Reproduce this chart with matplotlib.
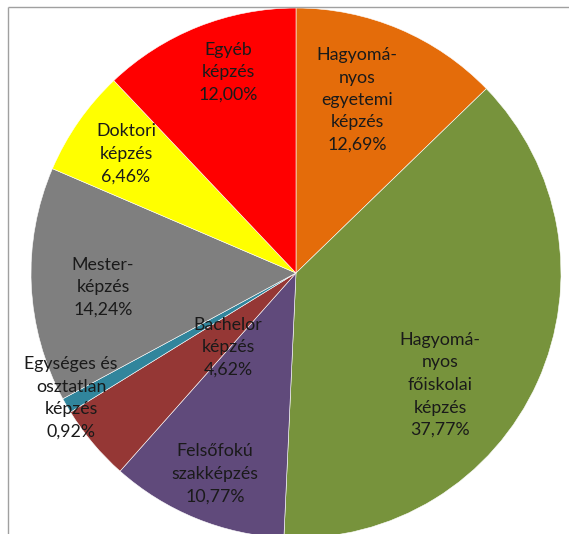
import matplotlib
matplotlib.use("Agg")
import matplotlib.pyplot as plt

categories = [
    "Hagyomá-\nnyos\negyetemi\nképzés",
    "Hagyomá-\nnyos\nfőiskolai\nképzés",
    "Felsőfokú\nszakképzés",
    "Bachelor\nképzés",
    "Egységes és\nosztatlan\nképzés",
    "Mester-\nképzés",
    "Doktori\nképzés",
    "Egyéb\nképzés",
]
values = [12.69, 37.77, 10.77, 4.62, 0.92, 14.24, 6.46, 12.00]
value_labels = ["12,69%", "37,77%", "10,77%", "4,62%", "0,92%", "14,24%", "6,46%", "12,00%"]
colors = ["#E46C0A", "#77933C", "#604A7B", "#953735", "#31859C", "#7F7F7F", "#FFFF00", "#FF0000"]

# label centres in pixel coordinates (from top-left)
label_pos = [(357, 100), (440, 385), (215, 474), (228, 347), (71, 398), (103, 287), (126, 154), (228, 72)]

W, H = 569, 534
fig = plt.figure(figsize=(W / 100, H / 100), dpi=100)
ax = fig.add_axes([0, 0, 1, 1])
ax.set_xlim(0, W)
ax.set_ylim(0, H)
ax.set_aspect("equal")
ax.axis("off")

ax.pie(values, colors=colors, startangle=90, counterclock=False,
       center=(296, H - 273), radius=265,
       wedgeprops=dict(edgecolor="white", linewidth=0.4))
ax.set_xlim(0, W)
ax.set_ylim(0, H)

for cat, vl, (x, y) in zip(categories, value_labels, label_pos):
    ax.text(x, H - y, cat + "\n" + vl, ha="center", va="center",
            fontsize=12.8, family="Lato", color="#1a1a1a", linespacing=1.5)

# frame lines (top and left)
ax.plot([8.5, W], [H - 7, H - 7], color="#A0A0A0", lw=1, solid_capstyle="butt")
ax.plot([8.5, 8.5], [0, H - 7], color="#A0A0A0", lw=1, solid_capstyle="butt")

fig.savefig("out.png", dpi=100)
